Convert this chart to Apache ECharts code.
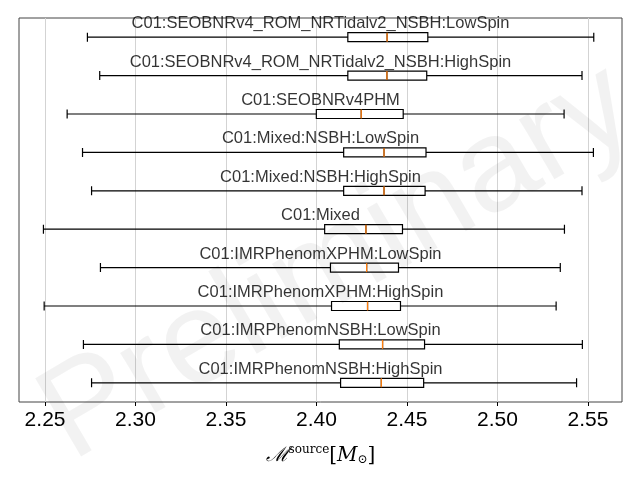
<!DOCTYPE html>
<html><head><meta charset="utf-8">
<script src="https://cdn.jsdelivr.net/npm/echarts@6/dist/echarts.min.js"></script>
<style>html,body{margin:0;padding:0;background:#fff}#c{width:640px;height:480px}</style>
</head><body><div id="c"></div>
<script>
const categories = [
  "C01:SEOBNRv4_ROM_NRTidalv2_NSBH:LowSpin",
  "C01:SEOBNRv4_ROM_NRTidalv2_NSBH:HighSpin",
  "C01:SEOBNRv4PHM",
  "C01:Mixed:NSBH:LowSpin",
  "C01:Mixed:NSBH:HighSpin",
  "C01:Mixed",
  "C01:IMRPhenomXPHM:LowSpin",
  "C01:IMRPhenomXPHM:HighSpin",
  "C01:IMRPhenomNSBH:LowSpin",
  "C01:IMRPhenomNSBH:HighSpin"
];
const lowWhisker = [2.2734, 2.2802, 2.2622, 2.2707, 2.2757, 2.2491, 2.2806, 2.2495, 2.2712, 2.2757];
const q1         = [2.4173, 2.4173, 2.3999, 2.4150, 2.4150, 2.4045, 2.4077, 2.4083, 2.4126, 2.4133];
const median     = [2.4390, 2.4389, 2.4247, 2.4373, 2.4373, 2.4273, 2.4277, 2.4282, 2.4365, 2.4358];
const q3         = [2.4615, 2.4609, 2.4479, 2.4605, 2.4600, 2.4475, 2.4453, 2.4464, 2.4597, 2.4592];
const highWhisker= [2.5532, 2.5467, 2.5368, 2.5530, 2.5467, 2.5370, 2.5347, 2.5324, 2.5469, 2.5437];
const tickValues = [2.25, 2.30, 2.35, 2.40, 2.45, 2.50, 2.55];
const xMin = 2.2356, xMax = 2.5688;

const boxData = categories.map((c,i)=>[lowWhisker[i], q1[i], median[i], q3[i], highWhisker[i]]);
const labelData = categories.map((c,i)=>({value:[(xMin+xMax)/2, i], name:c}));

const chart = echarts.init(document.getElementById('c'));
chart.setOption({
  animation:false,
  grid:{left:19,right:18,top:18,bottom:78,show:true,borderColor:'#444',borderWidth:1},
  xAxis:{type:'value',min:xMin,max:xMax,
    axisLine:{show:false},
    axisLabel:{fontSize:21,color:'#000',fontFamily:'Liberation Sans',margin:8,
      formatter:v=>v.toFixed(2),customValues:tickValues},
    axisTick:{show:true,length:4,customValues:tickValues,lineStyle:{color:'#000'}},
    splitLine:{show:true,lineStyle:{color:'#d3d3d3',width:1}},
    name:'{m|ℳ}{s|source}{b|[}{m|M}{o|⊙}{b|]}',nameLocation:'middle',nameGap:42,
    nameTextStyle:{rich:{
      m:{fontFamily:'DejaVu Serif',fontStyle:'italic',fontSize:20,color:'#000'},
      s:{fontFamily:'DejaVu Serif',fontSize:12,color:'#000',verticalAlign:'top',padding:[0,0,12,0]},
      b:{fontFamily:'DejaVu Serif',fontSize:20,color:'#000'},
      o:{fontFamily:'DejaVu Serif',fontSize:12,color:'#000',padding:[8,0,0,0]}
    }}
  },
  yAxis:{type:'category',data:categories,inverse:true,
    axisLine:{show:false},axisTick:{show:false},axisLabel:{show:false},splitLine:{show:false}},
  graphic:[{type:'text',left:20,top:40,rotation:0.53,z:100,silent:true,
    style:{text:'Preliminary',fontSize:132,fontFamily:'Liberation Sans',fill:'rgba(0,0,0,0.05)'}}],
  series:[
    {type:'boxplot',data:boxData,boxWidth:[9,9],
      itemStyle:{color:'rgba(255,255,255,0)',borderColor:'#000',borderWidth:1.2},
      z:3},
    {type:'custom',z:4,
      renderItem:(params,api)=>{
        const p1=api.coord([api.value(0),api.value(1)]);
        return {type:'line',shape:{x1:p1[0],y1:p1[1]-4.5,x2:p1[0],y2:p1[1]+4.5},
          style:{stroke:'#ff7f0e',lineWidth:1.3}};
      },
      data:categories.map((c,i)=>[median[i],i])},
    {type:'scatter',data:labelData,symbolSize:0,z:5,
      label:{show:true,formatter:p=>p.name,position:'top',distance:5,fontSize:16.5,
        fontFamily:'Liberation Sans',color:'#000',textBorderWidth:0}}
  ]
});
</script></body></html>
